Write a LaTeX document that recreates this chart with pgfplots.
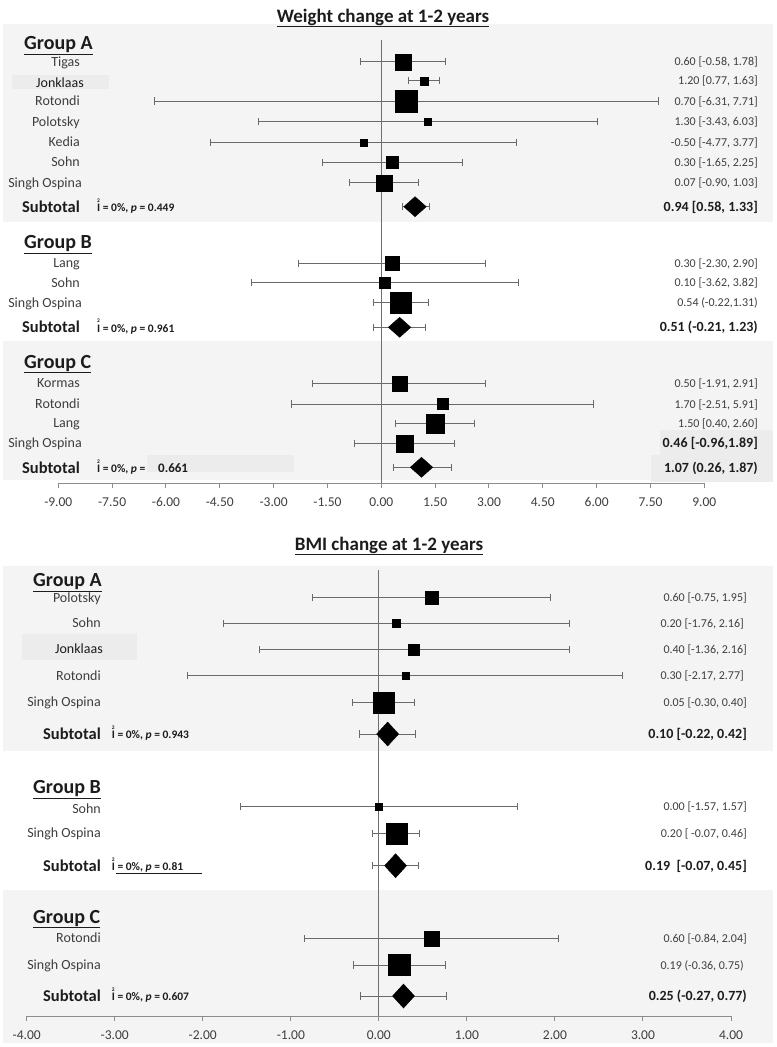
\documentclass[border=0pt]{standalone}
\usepackage{pgfplots}
\pgfplotsset{compat=1.18}
\usepackage{pgfplotstable}
\usepackage{fontspec}
\setmainfont{Carlito}
\definecolor{panel}{HTML}{F4F4F4}
\definecolor{boxc}{HTML}{ECECEC}
\definecolor{txt}{HTML}{3E3E3E}
\definecolor{txtb}{HTML}{1C1C1C}
\definecolor{barc}{HTML}{6A6A6A}
\definecolor{axisc}{HTML}{8C8C8C}
\definecolor{zeroc}{HTML}{6E6E6E}
\newcommand{\fs}[1]{\fontsize{#1bp}{#1bp}\selectfont}
\newcommand{\isq}{\makebox[0pt][l]{\raisebox{9.5bp}{\fs{5.5}2}}I}

% weight: studies  (x = estimate, lo/hi = CI, y = row, s = half side of square)
\pgfplotstableread{
x lo hi y s
0.60 -0.58 1.78 -61.7 8
1.20 0.77 1.63 -80.7 4
0.70 -6.31 7.71 -101 11
1.30 -3.43 6.03 -121.7 3.5
-0.50 -4.77 3.77 -142.3 3.5
0.30 -1.65 2.25 -162.3 5.8
0.07 -0.90 1.03 -182.7 8
0.30 -2.30 2.90 -263.3 7
0.10 -3.62 3.82 -282.7 5.5
0.54 -0.22 1.31 -302.7 10.6
0.50 -1.91 2.91 -383.3 7.5
1.70 -2.51 5.91 -404 5.5
1.50 0.40 2.60 -423.3 9.4
0.64 -0.76 2.04 -443.3 8.6
}\wstud
\pgfplotstableread{
x lo hi y
0.94 0.58 1.33 -206.7
0.51 -0.21 1.23 -327.3
1.12 0.33 1.95 -467.3
}\wsub
% BMI
\pgfplotstableread{
x lo hi y s
0.60 -0.75 1.95 -597.7 6.8
0.20 -1.76 2.16 -623.3 4
0.40 -1.36 2.16 -649.3 5.5
0.30 -2.17 2.77 -675.7 3.5
0.05 -0.30 0.40 -702.3 10.6
0.00 -1.57 1.57 -806.7 3.5
0.20 -0.07 0.46 -833.3 10.5
0.60 -0.84 2.04 -938.3 7.6
0.23 -0.29 0.76 -965 10.6
}\bstud
\pgfplotstableread{
x lo hi y
0.10 -0.22 0.42 -734
0.19 -0.07 0.45 -865.7
0.28 -0.21 0.77 -996
}\bsub

\pgfplotsset{
  forest/.style={
    scale only axis, clip=false, enlargelimits=false,
    axis x line=bottom, axis y line=none,
    axis line style={draw=axisc, line width=1bp, -},
    x tick style={draw=axisc, line width=1bp},
    tick align=outside, major tick length=5bp,
    xticklabel style={font=\fs{13.5}, text=txt, yshift=-6bp},
    /pgf/number format/.cd, fixed, fixed zerofill, precision=2, assume math mode=true,
  },
  ebars/.style={only marks, mark=none,
    error bars/.cd, x dir=both, x explicit, error mark=|,
    error bar style={draw=barc, line width=0.9bp, solid},
    error mark options={draw=barc, line width=0.9bp, mark size=3.6bp},
  },
  sq/.style={scatter, only marks, mark=square*,
    scatter/use mapped color={draw=black, fill=black},
    mark options={line width=0.2bp},
    visualization depends on={\thisrow{s}\as\ms},
    scatter/@pre marker code/.append style={/tikz/mark size=\ms},
  },
}

\newcommand{\nm}[3][80]{\node[anchor=base east,inner sep=0,text=txt,font=\fs{14}] at (#1,#2+4.6) {#3};}
\newcommand{\vl}[3][758]{\node[anchor=base east,inner sep=0,text=txt,font=\fs{12}] at (#1,#2+4.1) {#3};}
\newcommand{\bvl}[3][758]{\node[anchor=base east,inner sep=0,text=txtb,font=\bfseries\fs{14}] at (#1,#2+4.6) {#3};}
\newcommand{\sub}[2][80]{\node[anchor=base east,inner sep=0,text=txtb,font=\bfseries\fs{16.5}] at (#1,#2+5.4) {Subtotal};}
\newcommand{\grp}[3]{\node[anchor=base west,inner sep=0,text=txtb,font=\bfseries\fs{20}] at (#1,#2+6.4) {\underline{#3}};}
\newcommand{\itx}[3]{\node[anchor=base west,inner sep=0,text=txtb,font=\bfseries\fs{11.5}] at (#1,#2+4.8) {\isq{} = 0\%, \textit{p} = #3};}

\begin{document}
\begin{tikzpicture}
\begin{scope}[x=1bp,y=-1bp]
  \path (0,0) rectangle (777,1047);
  % panels
  \fill[panel] (3,24) rectangle (773,222);
  \fill[panel] (3,341) rectangle (773,480);
  \fill[panel] (3,566) rectangle (773,751);
  \fill[panel] (3,890) rectangle (773,1043);
  \fill[boxc] (12,75) rectangle (109,89);
  \fill[boxc] (147,455) rectangle (294,472);
  \fill[boxc] (660,430) rectangle (773,455);
  \fill[boxc] (651,455) rectangle (773,482);
  \fill[boxc] (22,634) rectangle (137,660);
\end{scope}

% ---------- weight ----------
\begin{axis}[forest, at={(58.3bp,-483bp)}, anchor=south west,
  width=646bp, height=443bp, xmin=-9, xmax=9, ymin=-483, ymax=-40,
  xtick={-9,-7.5,-6,-4.5,-3,-1.5,0,1.5,3,4.5,6,7.5,9}]
  \addplot[draw=zeroc, line width=1bp] coordinates {(0,-40) (0,-483)};
  \addplot[ebars] table[x=x, y=y, x error plus expr=\thisrow{hi}-\thisrow{x}, x error minus expr=\thisrow{x}-\thisrow{lo}] {\wstud};
  \addplot[ebars] table[x=x, y=y, x error plus expr=\thisrow{hi}-\thisrow{x}, x error minus expr=\thisrow{x}-\thisrow{lo}] {\wsub};
  \addplot[sq] table[x=x, y=y] {\wstud};
  \addplot[only marks, mark=diamond*, mark size=10bp, mark options={fill=black, draw=black, xscale=1.5}] table[x=x, y=y] {\wsub};
\end{axis}

% ---------- BMI ----------
\begin{axis}[forest, at={(26.7bp,-1016bp)}, anchor=south west,
  width=704.3bp, height=446bp, xmin=-4, xmax=4, ymin=-1016, ymax=-570,
  xtick={-4,-3,-2,-1,0,1,2,3,4}]
  \addplot[draw=zeroc, line width=1bp] coordinates {(0,-570) (0,-1016)};
  \addplot[ebars] table[x=x, y=y, x error plus expr=\thisrow{hi}-\thisrow{x}, x error minus expr=\thisrow{x}-\thisrow{lo}] {\bstud};
  \addplot[ebars] table[x=x, y=y, x error plus expr=\thisrow{hi}-\thisrow{x}, x error minus expr=\thisrow{x}-\thisrow{lo}] {\bsub};
  \addplot[sq] table[x=x, y=y] {\bstud};
  \addplot[only marks, mark=diamond*, mark size=12bp, mark options={fill=black, draw=black, xscale=1.22}] table[x=x, y=y] {\bsub};
\end{axis}

\begin{scope}[x=1bp,y=-1bp]
  % titles
  \node[anchor=base,inner sep=0,text=txtb,font=\bfseries\fs{19}] at (383,22) {\underline{Weight change at 1-2 years}};
  \node[anchor=base,inner sep=0,text=txtb,font=\bfseries\fs{19}] at (389,550) {\underline{BMI change at 1-2 years}};

  % ===== weight: group A
  \grp{24}{43.3}{Group A}
  \nm{61.7}{Tigas}
  \node[anchor=base,inner sep=0,text=txtb,font=\fs{14}] at (60,83.3+4.6) {Jonklaas};
  \nm{101}{Rotondi}
  \nm{121.7}{Polotsky}
  \nm{142.3}{Kedia}
  \nm{162.3}{Sohn}
  \nm[82]{182.7}{Singh Ospina}
  \sub{206.7}
  \itx{97}{206.7}{0.449}
  \vl{61.7}{0.60 [-0.58, 1.78]}
  \vl{80.7}{1.20 [0.77, 1.63]}
  \vl{101}{0.70 [-6.31, 7.71]}
  \vl{121.7}{1.30 [-3.43, 6.03]}
  \vl{142.3}{-0.50 [-4.77, 3.77]}
  \vl{162.3}{0.30 [-1.65, 2.25]}
  \vl{182.7}{0.07 [-0.90, 1.03]}
  \bvl{206.7}{0.94 [0.58, 1.33]}
  % group B
  \grp{24}{242}{Group B}
  \nm{263.3}{Lang}
  \nm{282.7}{Sohn}
  \nm[82]{302.7}{Singh Ospina}
  \sub{327.3}
  \itx{97}{327.3}{0.961}
  \vl{263.3}{0.30 [-2.30, 2.90]}
  \vl{282.7}{0.10 [-3.62, 3.82]}
  \vl{302.7}{0.54 (-0.22,1.31)}
  \bvl{327.3}{0.51 (-0.21, 1.23)}
  % group C
  \grp{24}{361.7}{Group C}
  \nm{383.3}{Kormas}
  \nm{404}{Rotondi}
  \nm{423.3}{Lang}
  \nm[82]{443.3}{Singh Ospina}
  \sub{468}
  \node[anchor=base west,inner sep=0,text=txtb,font=\bfseries\fs{11.5}] at (97,468+4.8) {\isq{} = 0\%, \textit{p} =};
  \node[anchor=base west,inner sep=0,text=txtb,font=\bfseries\fs{13}] at (158,468+4.5) {0.661};
  \vl{383.3}{0.50 [-1.91, 2.91]}
  \vl{404}{1.70 [-2.51, 5.91]}
  \vl{423.3}{1.50 [0.40, 2.60]}
  \bvl[758]{443.3}{0.46 [-0.96,1.89]}
  \bvl{468}{1.07 (0.26, 1.87)}

  % ===== BMI: group A
  \grp{33}{580}{Group A}
  \nm[101]{597.7}{Polotsky}
  \nm[101]{623.3}{Sohn}
  \node[anchor=base east,inner sep=0,text=txtb,font=\fs{14}] at (103,649.3+4.6) {Jonklaas};
  \nm[101]{675.7}{Rotondi}
  \nm[101]{702.3}{Singh Ospina}
  \sub[101]{734}
  \itx{111.7}{734}{0.943}
  \vl[747]{597.7}{0.60 [-0.75, 1.95]}
  \vl[744]{623.3}{0.20 [-1.76, 2.16]}
  \vl[747]{649.3}{0.40 [-1.36, 2.16]}
  \vl[744]{675.7}{0.30 [-2.17, 2.77]}
  \vl[747]{702.3}{0.05 [-0.30, 0.40]}
  \bvl[747]{734}{0.10 [-0.22, 0.42]}
  % group B
  \grp{33}{787.3}{Group B}
  \nm[101]{809}{Sohn}
  \nm[101]{833.3}{Singh Ospina}
  \sub[101]{865.7}
  \itx{111.7}{865.7}{0.81}
  \draw[txtb, line width=1bp] (116,873) -- (202,873);
  \vl[747]{806.7}{0.00 [-1.57, 1.57]}
  \vl[747]{833.3}{0.20 [ -0.07, 0.46]}
  \bvl[747]{865.7}{0.19\ \ [-0.07, 0.45]}
  % group C
  \grp{33}{916.7}{Group C}
  \nm[101]{938.3}{Rotondi}
  \nm[101]{965}{Singh Ospina}
  \sub[101]{996}
  \itx{111.7}{996}{0.607}
  \vl[747]{938.3}{0.60 [-0.84, 2.04]}
  \vl[744]{965}{0.19 (-0.36, 0.75)}
  \bvl[747]{996}{0.25 (-0.27, 0.77)}
\end{scope}
\end{tikzpicture}
\end{document}
